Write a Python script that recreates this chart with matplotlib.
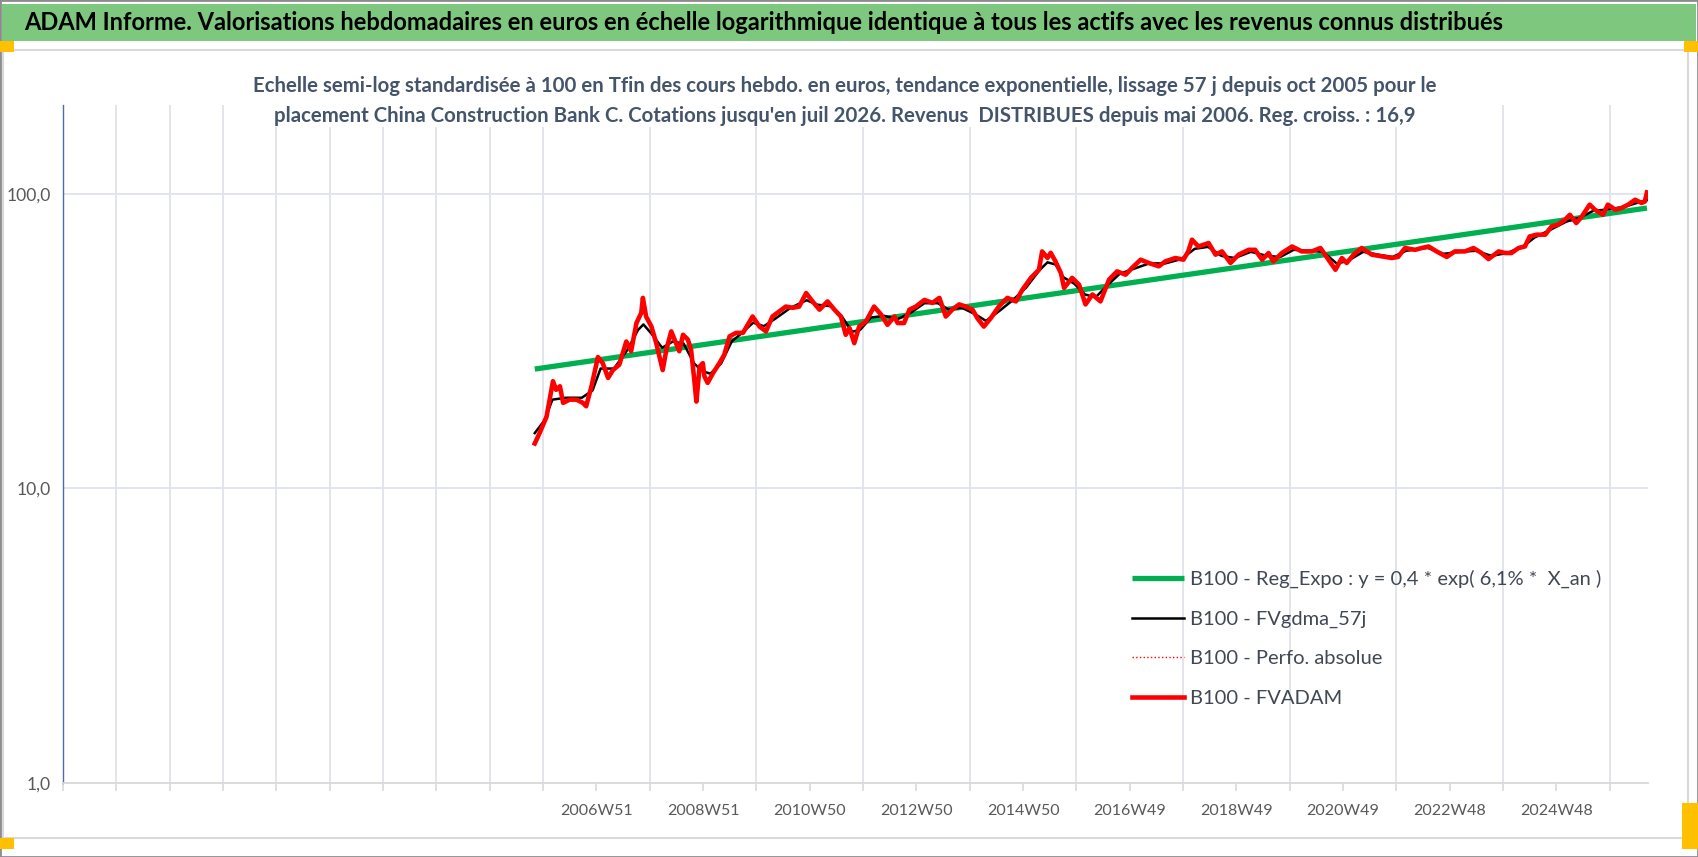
import matplotlib
matplotlib.use("Agg")
import matplotlib.pyplot as plt
from matplotlib.patches import Rectangle

plt.rcParams['font.family'] = ['Lato', 'DejaVu Sans']

# B100 - FVADAM (x in decimal years)
fv_years = [2005.82, 2005.91, 2006.04, 2006.16, 2006.22, 2006.29, 2006.35, 2006.47, 2006.60, 2006.72,
            2006.78, 2006.88, 2007.00, 2007.09, 2007.19, 2007.28, 2007.40, 2007.53, 2007.62, 2007.72,
            2007.81, 2007.84, 2007.90, 2008.00, 2008.09, 2008.21, 2008.28, 2008.37, 2008.46, 2008.52,
            2008.59, 2008.68, 2008.74, 2008.80, 2008.84, 2008.90, 2008.96, 2008.99, 2009.05, 2009.15,
            2009.27, 2009.36, 2009.46, 2009.58, 2009.71, 2009.89, 2010.02, 2010.14, 2010.26, 2010.51,
            2010.64, 2010.76, 2010.89, 2011.01, 2011.14, 2011.29, 2011.42, 2011.54, 2011.63, 2011.70,
            2011.79, 2011.88, 2012.01, 2012.16, 2012.29, 2012.41, 2012.54, 2012.60, 2012.72, 2012.82,
            2012.94, 2013.10, 2013.25, 2013.38, 2013.50, 2013.62, 2013.75, 2013.87, 2014.00, 2014.09,
            2014.21, 2014.34, 2014.49, 2014.65, 2014.81, 2014.93, 2015.09, 2015.24, 2015.30, 2015.40,
            2015.46, 2015.55, 2015.65, 2015.71, 2015.86, 2015.99, 2016.11, 2016.24, 2016.39, 2016.55,
            2016.70, 2016.86, 2016.98, 2017.14, 2017.29, 2017.48, 2017.60, 2017.79, 2017.94, 2018.03,
            2018.10, 2018.22, 2018.41, 2018.54, 2018.66, 2018.82, 2018.97, 2019.16, 2019.28, 2019.41,
            2019.53, 2019.62, 2019.78, 2019.97, 2020.15, 2020.34, 2020.50, 2020.65, 2020.78, 2020.90,
            2020.99, 2021.12, 2021.27, 2021.46, 2021.65, 2021.83, 2021.95, 2022.08, 2022.27, 2022.39,
            2022.52, 2022.67, 2022.86, 2023.01, 2023.20, 2023.36, 2023.51, 2023.64, 2023.83, 2023.95,
            2024.07, 2024.20, 2024.32, 2024.41, 2024.54, 2024.70, 2024.82, 2024.94, 2025.07, 2025.16,
            2025.28, 2025.38, 2025.53, 2025.63, 2025.78, 2025.87, 2026.01, 2026.13, 2026.25, 2026.38,
            2026.50, 2026.56, 2026.60]
fv_values = [14.2, 15.4, 17.5, 23.1, 21.6, 22.2, 19.5, 20.0, 20.0, 19.5,
             19.0, 22.2, 27.9, 26.6, 23.7, 25.2, 26.3, 31.5, 29.2, 36.4,
             39.4, 44.3, 38.3, 35.4, 31.1, 25.2, 29.6, 34.1, 31.1, 29.2,
             33.2, 32.0, 29.6, 23.4, 19.7, 25.9, 26.6, 24.0, 22.8, 24.6,
             26.6, 28.4, 32.8, 33.7, 33.7, 38.3, 35.4, 34.1, 38.3, 41.4,
             41.0, 41.4, 46.0, 43.1, 40.4, 43.1, 40.4, 38.3, 33.2, 35.0,
             31.1, 35.4, 36.9, 41.4, 38.9, 35.9, 38.3, 36.4, 36.4, 40.4,
             41.4, 43.6, 42.6, 44.3, 38.3, 40.4, 42.1, 41.4, 40.4, 37.8,
             35.4, 37.8, 41.4, 44.3, 43.1, 47.2, 51.8, 55.2, 63.7, 60.5,
             63.0, 58.9, 53.8, 47.9, 51.8, 49.1, 42.1, 45.5, 43.1, 51.1,
             54.5, 53.1, 56.0, 59.7, 58.2, 56.7, 58.9, 60.5, 59.7, 63.7,
             69.8, 66.2, 68.0, 62.1, 63.7, 58.2, 62.1, 64.5, 64.5, 59.7,
             62.9, 58.9, 62.9, 66.2, 63.7, 63.7, 65.4, 59.7, 55.2, 60.5,
             58.2, 62.1, 65.4, 62.1, 61.3, 60.5, 61.0, 65.4, 64.5, 65.4,
             66.2, 63.7, 61.0, 63.7, 63.7, 65.4, 62.9, 60.0, 63.7, 62.9,
             62.9, 65.4, 66.2, 71.6, 72.6, 72.6, 77.5, 78.5, 81.6, 84.8,
             79.5, 83.5, 91.8, 88.2, 84.8, 91.8, 88.2, 89.5, 91.8, 95.4,
             93.0, 94.0, 101.0]

# B100 - FVgdma_57j (smoothed line, mostly under the red one)
gdma_years = [2005.82, 2006.00, 2006.15, 2006.40, 2006.70, 2006.90, 2007.05, 2007.30, 2007.55, 2007.75,
              2007.85, 2008.00, 2008.20, 2008.40, 2008.60, 2008.80, 2008.95, 2009.10, 2009.30, 2009.50,
              2009.70, 2009.90, 2010.10, 2010.30, 2010.60, 2010.90, 2011.10, 2011.35, 2011.55, 2011.75,
              2011.90, 2012.10, 2012.35, 2012.60, 2012.85, 2013.10, 2013.35, 2013.55, 2013.80, 2014.05,
              2014.25, 2014.50, 2014.75, 2015.00, 2015.25, 2015.40, 2015.55, 2015.70, 2015.90, 2016.10,
              2016.30, 2016.50, 2016.75, 2017.00, 2017.30, 2017.60, 2017.90, 2018.15, 2018.40, 2018.65,
              2018.90, 2019.20, 2019.50, 2019.75, 2020.00, 2020.30, 2020.55, 2020.80, 2021.00, 2021.30,
              2021.60, 2021.85, 2022.10, 2022.50, 2022.80, 2023.10, 2023.40, 2023.70, 2024.00, 2024.30,
              2024.50, 2024.80, 2025.10, 2025.35, 2025.60, 2025.90, 2026.20, 2026.45, 2026.60]
gdma_values = [15.4, 17.0, 20.0, 20.3, 20.3, 21.5, 25.5, 25.5, 29.5, 34.5,
               36.0, 33.5, 30.0, 31.5, 31.0, 26.5, 25.0, 24.5, 26.5, 31.5,
               33.8, 36.5, 35.5, 37.5, 41.0, 43.5, 42.0, 41.5, 38.5, 34.0,
               34.5, 38.0, 38.5, 37.5, 39.5, 42.5, 42.5, 40.5, 41.0, 39.0,
               37.0, 40.0, 43.5, 48.0, 55.0, 58.5, 57.5, 52.0, 49.5, 45.5,
               44.5, 48.5, 53.5, 55.5, 58.0, 58.0, 60.0, 65.0, 66.0, 61.5,
               60.5, 63.5, 61.5, 61.0, 64.5, 64.0, 63.5, 58.0, 59.0, 63.5,
               62.0, 61.0, 64.0, 65.5, 62.5, 63.5, 64.0, 61.5, 63.0, 66.5,
               71.0, 75.5, 80.5, 83.0, 87.5, 88.5, 90.5, 93.5, 95.0]

# B100 - Reg_Expo (straight line on the log scale)
reg_years = [2005.82, 2026.60]
reg_values = [25.4, 89.4]

tick_labels = ["2006W51", "2008W51", "2010W50", "2012W50", "2014W50",
               "2016W49", "2018W49", "2020W49", "2022W48", "2024W48"]
y_ticks = [1, 10, 100]
y_labels = ["1,0", "10,0", "100,0"]

W, H = 1698, 857
fig = plt.figure(figsize=(W / 100, H / 100), dpi=100)
renderer = fig.canvas.get_renderer()


def fit_width(t, target):
    # shrink/grow a text until it is as wide as in the reference
    for _ in range(3):
        w = t.get_window_extent(renderer).width
        t.set_fontsize(t.get_fontsize() * target / w)
    return t.get_fontsize()


# frame, green header bar and the little yellow handles
fig.patches.append(Rectangle((0, 0), 1, 1, transform=fig.transFigure, fill=False,
                             edgecolor="#8c8c8c", lw=2))
fig.patches.append(Rectangle((2 / W, 1 - 41 / H), 1694 / W, 37 / H, transform=fig.transFigure,
                             facecolor="#7dc87e", edgecolor="none"))
fig.patches.append(Rectangle((3 / W, 1 - 838 / H), 1685 / W, 788 / H, transform=fig.transFigure,
                             fill=False, edgecolor="#d9d9d9", lw=1.5))
for (x0, y0, w, h) in [(0, 41, 14, 11), (1684, 41, 14, 11), (0, 838, 14, 11), (1682, 803, 16, 46)]:
    fig.patches.append(Rectangle((x0 / W, 1 - (y0 + h) / H), w / W, h / H, transform=fig.transFigure,
                                 facecolor="#ffc000", edgecolor="none"))

title = fig.text(24 / W, 1 - 23 / H,
                 "ADAM Informe. Valorisations hebdomadaires en euros en échelle logarithmique identique à tous "
                 "les actifs avec les revenus connus distribués",
                 fontsize=18, fontweight="bold", color="black", va="center", ha="left")
fit_width(title, 1480)

sub = fig.text(845 / W, 1 - 101 / H,
               "Echelle semi-log standardisée à 100 en Tfin des cours hebdo. en euros, tendance exponentielle, "
               "lissage 57 j depuis oct 2005 pour le\nplacement China Construction Bank C. Cotations jusqu'en "
               "juil 2026. Revenus  DISTRIBUES depuis mai 2006. Reg. croiss. : 16,9",
               ha="center", va="center", fontsize=14, fontweight="bold",
               color="#44546a", linespacing=1.6, zorder=10,
               bbox=dict(facecolor="white", edgecolor="none", pad=1))
fit_width(sub, 1183)

ax = fig.add_axes([63 / W, 1 - 783 / H, (1648 - 63) / W, (783 - 105) / H])
ax.set_yscale("log")

ax.plot(reg_years, reg_values, color="#00b050", lw=3.8, solid_capstyle="butt",
        label="B100 - Reg_Expo : y = 0,4 * exp( 6,1% *  X_an )", zorder=3)
ax.plot(gdma_years, gdma_values, color="black", lw=1.8, label="B100 - FVgdma_57j", zorder=4)
ax.plot(fv_years, fv_values, color="red", lw=1, ls=":", label="B100 - Perfo. absolue", zorder=4)
ax.plot(fv_years, fv_values, color="red", lw=3.3, label="B100 - FVADAM", zorder=5)

# x axis: one gridline every 52 weeks, a label every other one
step = 52 * 7 / 365.25
first = 2006 + 50.5 / 52
grid_x = [first + k * step for k in range(-10, 20)]
ax.set_xlim(grid_x[0], 2026.62)
ax.set_ylim(1, 200)
ax.set_xticks(grid_x[10::2][:len(tick_labels)])
ax.set_xticks(grid_x, minor=True)
ax.set_yticks(y_ticks)
ax.yaxis.set_minor_locator(matplotlib.ticker.NullLocator())

probe = fig.text(0, 0, "100,0", fontsize=12)
ytick_size = fit_width(probe, 44)
probe.remove()
xtick_size = ytick_size * 0.92

ax.set_xticklabels(tick_labels, fontsize=xtick_size, color="#595959")
ax.set_yticklabels(y_labels, fontsize=ytick_size, color="#595959")

ax.grid(True, which="minor", axis="x", color="#dfe3ea", lw=1.3)
ax.grid(True, which="major", axis="y", color="#dfe3ea", lw=1.3)
ax.tick_params(axis="x", which="both", length=6, color="#d9d9d9", width=1.2, pad=9)
ax.tick_params(axis="y", length=0, pad=9)
for s in ["top", "right"]:
    ax.spines[s].set_visible(False)
ax.spines["bottom"].set_color("#d9d9d9")
ax.spines["bottom"].set_linewidth(1.3)
ax.spines["left"].set_color("#4a6fa5")
ax.spines["left"].set_linewidth(1)

leg_kw = dict(loc="upper left", frameon=False, handlelength=2.6, handletextpad=0.3,
              borderaxespad=0, borderpad=0)
leg = ax.legend(fontsize=15, labelspacing=0.75, **leg_kw)
leg_size = fit_width(leg.get_texts()[0], 412)
# rows are 39 px apart in the reference
fs_px = leg_size * 100 / 72
spacing = (39 - 0.83 * fs_px) / fs_px
leg = ax.legend(fontsize=leg_size, labelspacing=spacing,
                bbox_to_anchor=((1132 - 63) / (1648 - 63), (783 - 570) / (783 - 105)), **leg_kw)
for t in leg.get_texts():
    t.set_color("#404854")

fig.savefig("out.png", dpi=100)
